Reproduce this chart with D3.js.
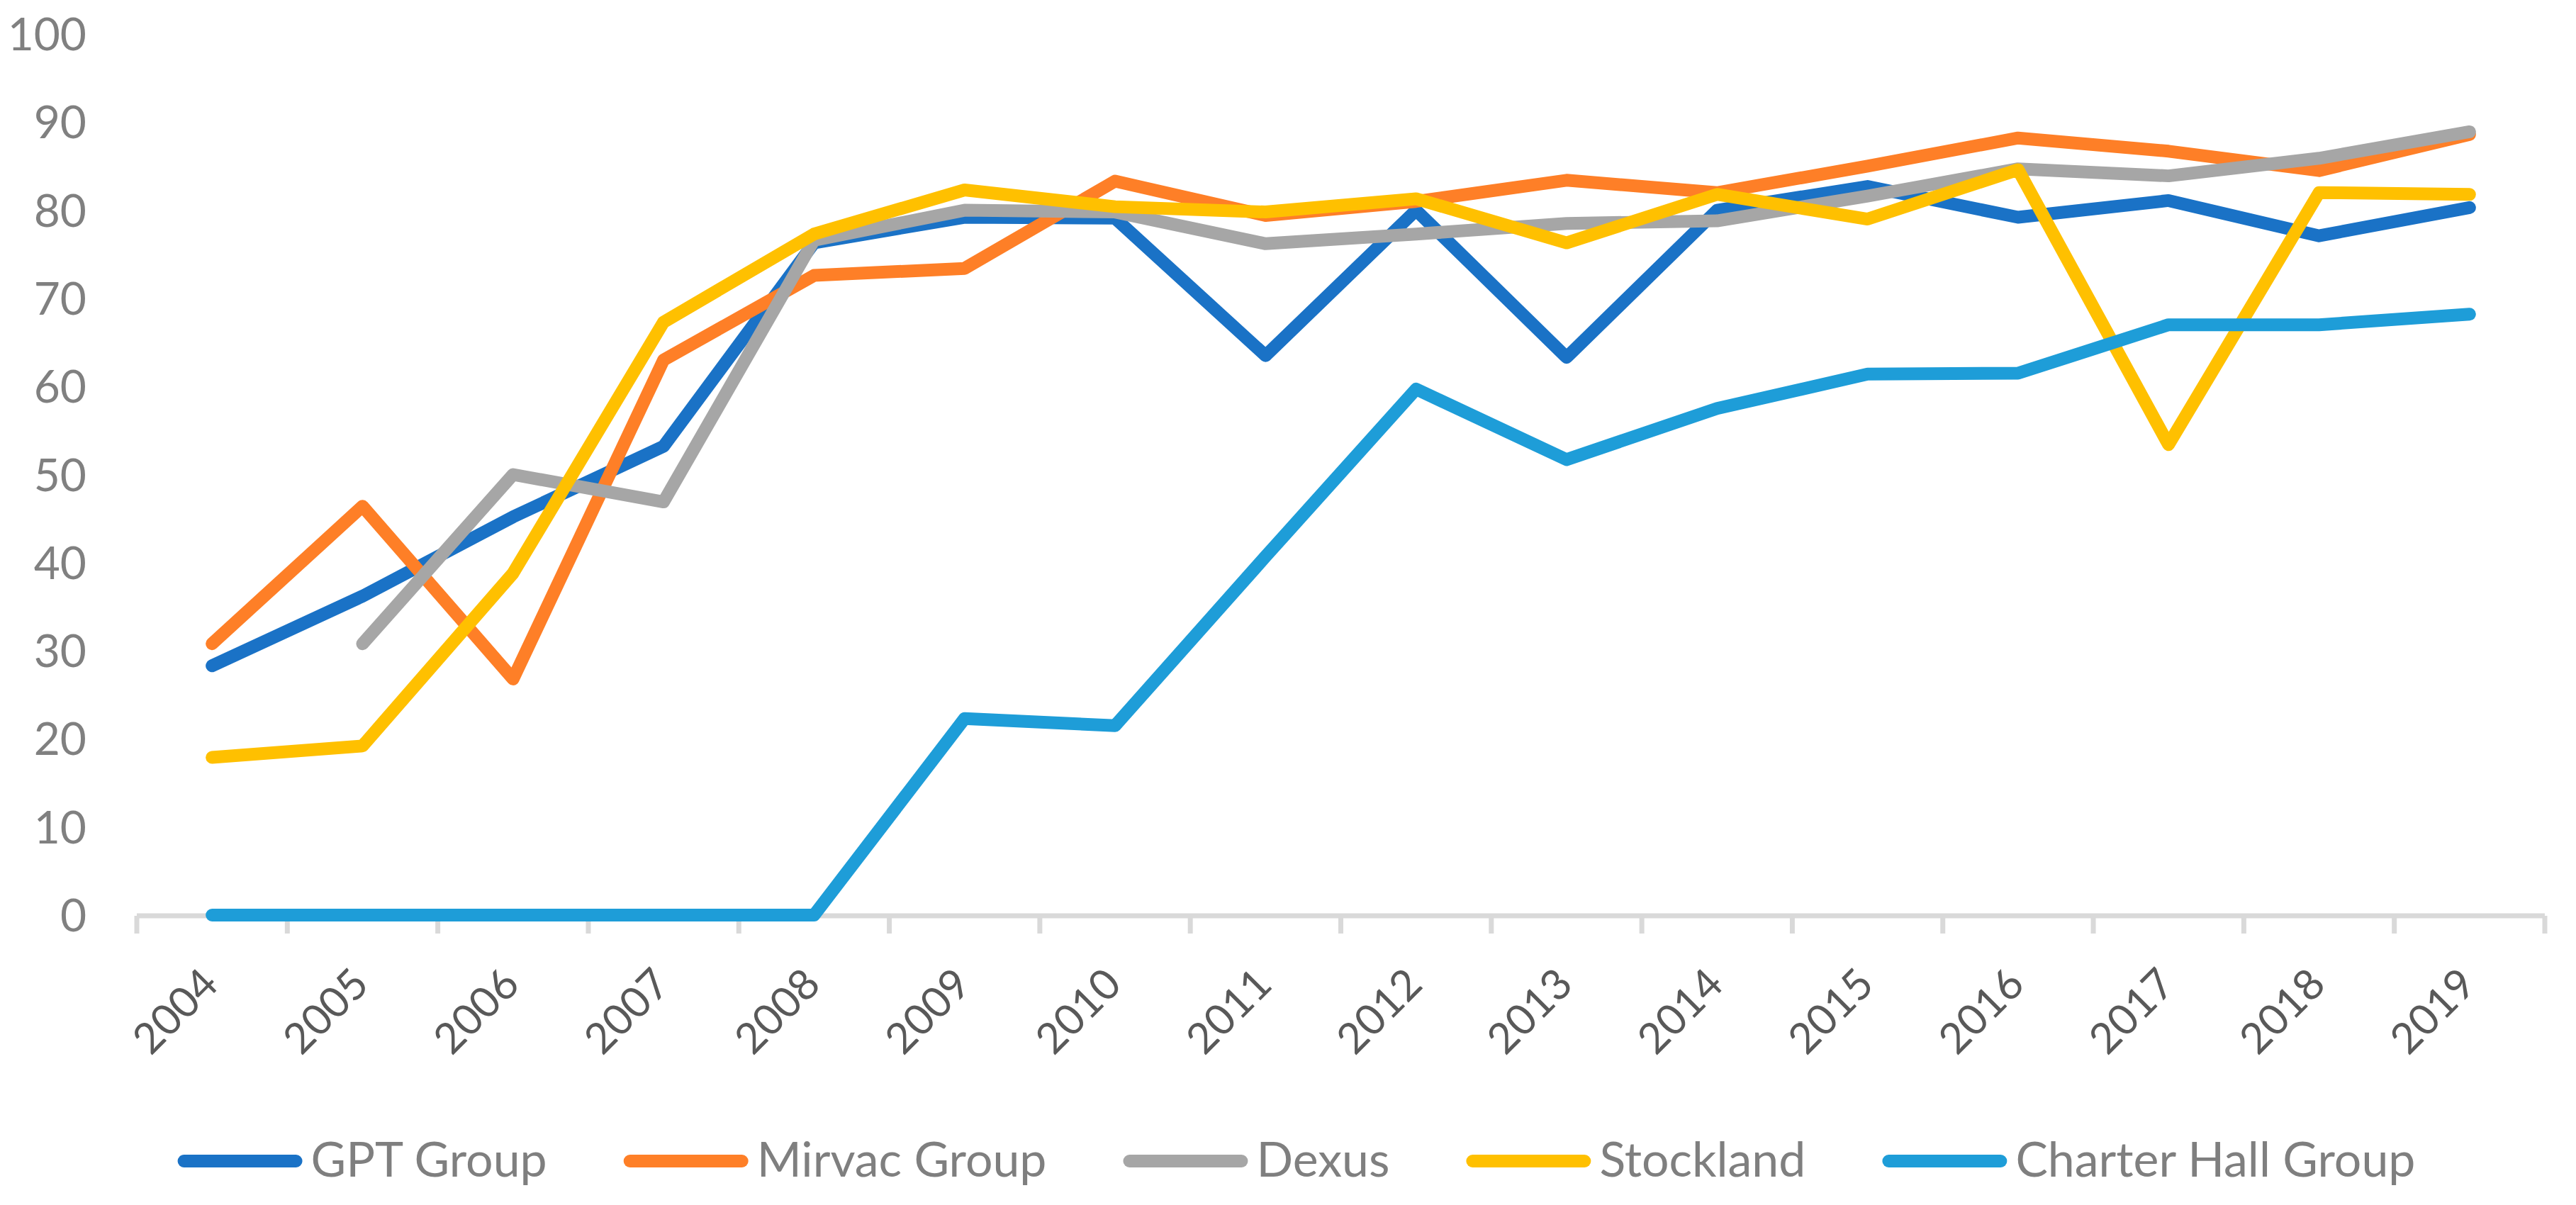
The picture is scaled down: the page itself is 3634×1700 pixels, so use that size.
<!DOCTYPE html>
<html>
<head>
<meta charset="utf-8">
<script src="https://cdn.jsdelivr.net/npm/d3@7"></script>
<style>
  html, body { margin: 0; padding: 0; background: #ffffff; }
  svg { display: block; font-family: Lato, "Open Sans", sans-serif; }
</style>
</head>
<body>
<svg id="chart" width="3634" height="1700"></svg>
<script>
// ---- data ----
const years = ["2004","2005","2006","2007","2008","2009","2010","2011","2012","2013","2014","2015","2016","2017","2018","2019"];
const gptGroup     = [28.3, 36.2, 45.2, 53.2, 76.3, 79.2, 79.1, 63.5, 80.0, 63.3, 80.0, 82.7, 79.2, 81.1, 77.1, 80.3];
const mirvacGroup  = [30.8, 46.4, 26.8, 63.0, 72.6, 73.4, 83.3, 79.4, 81.0, 83.4, 82.0, 85.0, 88.2, 86.7, 84.5, 88.6];
const dexus        = [null, 30.8, 50.0, 46.9, 76.6, 80.0, 79.8, 76.2, 77.3, 78.5, 78.8, 81.6, 84.7, 83.9, 85.9, 88.9];
const stockland    = [17.9, 19.2, 38.8, 67.3, 77.3, 82.3, 80.4, 79.8, 81.3, 76.3, 81.8, 79.0, 84.6, 53.4, 82.0, 81.8];
const charterHall  = [0, 0, 0, 0, 0, 22.3, 21.5, 40.7, 59.7, 51.7, 57.5, 61.4, 61.5, 67.0, 67.0, 68.2];
const seriesNames  = ["GPT Group", "Mirvac Group", "Dexus", "Stockland", "Charter Hall Group"];
const seriesValues = [gptGroup, mirvacGroup, dexus, stockland, charterHall];
const seriesColors = ["#1a72c6", "#fe7f27", "#a6a6a6", "#ffc000", "#1e9dd8"];
const yTicks = [0, 10, 20, 30, 40, 50, 60, 70, 80, 90, 100];

// ---- layout ----
const svg = d3.select("#chart");
const plotLeft = 193, plotRight = 3590, yZero = 1291, yTop = 48;

const x = d3.scaleBand().domain(years).range([plotLeft, plotRight]).paddingInner(0).paddingOuter(0);
const xc = d => x(d) + x.bandwidth() / 2;
const y = d3.scaleLinear().domain([0, 100]).range([yZero, yTop]);

// y labels
svg.append("g").selectAll("text").data(yTicks).join("text")
  .attr("x", 122).attr("y", d => y(d)).attr("dy", "0.36em")
  .attr("text-anchor", "end").attr("fill", "#808080")
  .attr("font-size", 64).text(d => d);

// x axis line + ticks (between categories)
const axisG = svg.append("g");
axisG.append("line")
  .attr("x1", plotLeft).attr("x2", plotRight)
  .attr("y1", yZero + 1).attr("y2", yZero + 1)
  .attr("stroke", "#d9d9d9").attr("stroke-width", 7);
const boundaries = years.map(d => x(d)).concat([x(years[years.length - 1]) + x.bandwidth()]);
axisG.selectAll("line.tick").data(boundaries).join("line").attr("class", "tick")
  .attr("x1", d => d).attr("x2", d => d)
  .attr("y1", yZero + 1).attr("y2", yZero + 26)
  .attr("stroke", "#d9d9d9").attr("stroke-width", 7);

// x labels rotated
svg.append("g").selectAll("text").data(years).join("text")
  .attr("text-anchor", "end").attr("fill", "#595959").attr("font-size", 60)
  .attr("transform", d => `translate(${xc(d) + 12},${yZero + 101}) rotate(-45)`)
  .text(d => d);

// series lines
const line = d3.line()
  .defined(d => d.v !== null)
  .x(d => xc(d.year)).y(d => y(d.v));

svg.append("g").selectAll("path").data(seriesValues.map((vals, i) => ({
    color: seriesColors[i],
    pts: years.map((yr, j) => ({year: yr, v: vals[j]}))
  }))).join("path")
  .attr("d", d => line(d.pts))
  .attr("fill", "none").attr("stroke", d => d.color)
  .attr("stroke-width", 18).attr("stroke-linecap", "round").attr("stroke-linejoin", "round");

// legend
const legendG = svg.append("g");
const swatchLen = 176, capR = 9, textGap = 12, itemGap = 108, legendBaseline = 1660, legendLineY = 1638;
const items = legendG.selectAll("g").data(seriesNames).join("g");
items.append("line")
  .attr("x1", capR).attr("x2", swatchLen - capR).attr("y1", legendLineY).attr("y2", legendLineY)
  .attr("stroke", (d, i) => seriesColors[i]).attr("stroke-width", 18).attr("stroke-linecap", "round");
items.append("text")
  .attr("x", swatchLen + textGap).attr("y", legendBaseline)
  .attr("fill", "#7f7f7f").attr("font-size", 68).text(d => d);
let offsets = [], cur = 0;
items.each(function() {
  const w = d3.select(this).select("text").node().getComputedTextLength();
  offsets.push(cur);
  cur += swatchLen + textGap + w + itemGap;
});
const totalW = cur - itemGap;
const startX = 1829 - totalW / 2;
items.attr("transform", (d, i) => `translate(${startX + offsets[i]},0)`);
</script>
</body>
</html>
